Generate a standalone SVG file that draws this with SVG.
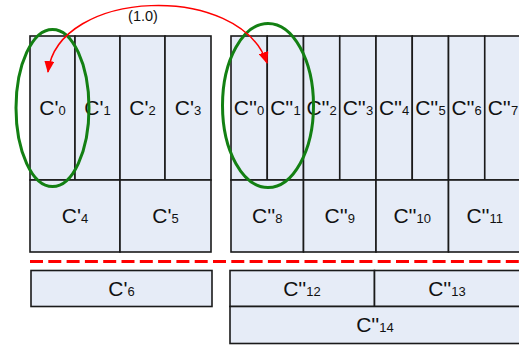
<svg xmlns="http://www.w3.org/2000/svg" width="519" height="347" viewBox="0 0 519 347">
<defs>
<style>
.c{fill:#E6ECF7;stroke:#1a1a1a;stroke-width:1.6}
.t{font-family:"Liberation Sans",Arial,sans-serif;font-size:21px;fill:#111;text-anchor:middle}
.s{font-size:13px}
.g{fill:none;stroke:#138013;stroke-width:3}
</style>
<marker id="ah" markerWidth="12" markerHeight="10" refX="11" refY="5" orient="auto" markerUnits="userSpaceOnUse">
<path d="M0,0 L12,5 L0,10 Z" fill="#FF0000"/>
</marker>
<marker id="ah2" markerWidth="12" markerHeight="10" refX="1" refY="5" orient="auto" markerUnits="userSpaceOnUse">
<path d="M12,0 L0,5 L12,10 Z" fill="#FF0000"/>
</marker>
</defs>
<rect width="519" height="347" fill="#fff"/>
<g id="left-top">
<g id="Cp0"><rect class="c" x="30" y="36" width="45" height="144"/><text class="t" x="52.5" y="115">C'<tspan class="s">0</tspan></text></g>
<g id="Cp1"><rect class="c" x="75" y="36" width="45" height="144"/><text class="t" x="97.5" y="115">C'<tspan class="s">1</tspan></text></g>
<g id="Cp2"><rect class="c" x="120" y="36" width="45" height="144"/><text class="t" x="142.5" y="115">C'<tspan class="s">2</tspan></text></g>
<g id="Cp3"><rect class="c" x="165" y="36" width="46" height="144"/><text class="t" x="188" y="115">C'<tspan class="s">3</tspan></text></g>
<g id="Cp4"><rect class="c" x="30" y="180" width="90" height="72"/><text class="t" x="75" y="223">C'<tspan class="s">4</tspan></text></g>
<g id="Cp5"><rect class="c" x="120" y="180" width="91" height="72"/><text class="t" x="165.5" y="223">C'<tspan class="s">5</tspan></text></g>
</g>
<g id="right-top">
<g id="Cpp0"><rect class="c" x="231" y="36" width="36.25" height="144"/><text class="t" x="249" y="115">C''<tspan class="s">0</tspan></text></g>
<g id="Cpp1"><rect class="c" x="267.25" y="36" width="36.25" height="144"/><text class="t" x="285.4" y="115">C''<tspan class="s">1</tspan></text></g>
<g id="Cpp2"><rect class="c" x="303.5" y="36" width="36.25" height="144"/><text class="t" x="321.6" y="115">C''<tspan class="s">2</tspan></text></g>
<g id="Cpp3"><rect class="c" x="339.75" y="36" width="36.25" height="144"/><text class="t" x="357.9" y="115">C''<tspan class="s">3</tspan></text></g>
<g id="Cpp4"><rect class="c" x="376" y="36" width="36.25" height="144"/><text class="t" x="394.1" y="115">C''<tspan class="s">4</tspan></text></g>
<g id="Cpp5"><rect class="c" x="412.25" y="36" width="36.25" height="144"/><text class="t" x="430.4" y="115">C''<tspan class="s">5</tspan></text></g>
<g id="Cpp6"><rect class="c" x="448.5" y="36" width="36.25" height="144"/><text class="t" x="466.6" y="115">C''<tspan class="s">6</tspan></text></g>
<g id="Cpp7"><rect class="c" x="484.75" y="36" width="36.25" height="144"/><text class="t" x="502.9" y="115">C''<tspan class="s">7</tspan></text></g>
<g id="Cpp8"><rect class="c" x="231" y="180" width="72.5" height="72"/><text class="t" x="267.25" y="223">C''<tspan class="s">8</tspan></text></g>
<g id="Cpp9"><rect class="c" x="303.5" y="180" width="72.5" height="72"/><text class="t" x="339.75" y="223">C''<tspan class="s">9</tspan></text></g>
<g id="Cpp10"><rect class="c" x="376" y="180" width="72.5" height="72"/><text class="t" x="412.25" y="223">C''<tspan class="s">10</tspan></text></g>
<g id="Cpp11"><rect class="c" x="448.5" y="180" width="72.5" height="72"/><text class="t" x="484.75" y="223">C''<tspan class="s">11</tspan></text></g>
</g>
<line x1="30" y1="261.5" x2="521" y2="261.5" stroke="#FF0000" stroke-width="3" stroke-dasharray="13,5.3"/>
<g id="bottom">
<g id="Cp6"><rect class="c" x="31" y="270.5" width="181" height="36"/><text class="t" x="121.5" y="296">C'<tspan class="s">6</tspan></text></g>
<g id="Cpp12"><rect class="c" x="230" y="270.5" width="144.5" height="36"/><text class="t" x="302" y="296">C''<tspan class="s">12</tspan></text></g>
<g id="Cpp13"><rect class="c" x="374.5" y="270.5" width="147" height="36"/><text class="t" x="447" y="296">C''<tspan class="s">13</tspan></text></g>
<g id="Cpp14"><rect class="c" x="230" y="306.5" width="291.5" height="37"/><text class="t" x="375" y="332">C''<tspan class="s">14</tspan></text></g>
</g>
<g id="highlights">
<ellipse class="g" cx="52.5" cy="108" rx="36.5" ry="78.5"/>
<ellipse class="g" cx="268" cy="105.5" rx="45.5" ry="82"/>
</g>
<g id="connectors">
<path d="M267,63 C240,-18 58,-12 48,72" fill="none" stroke="#FF0000" stroke-width="1.5" marker-start="url(#ah2)" marker-end="url(#ah)"/>
<text x="143" y="21" font-family="Liberation Sans,Arial,sans-serif" font-size="14.5" text-anchor="middle" fill="#111">(1.0)</text>
</g>
</svg>
